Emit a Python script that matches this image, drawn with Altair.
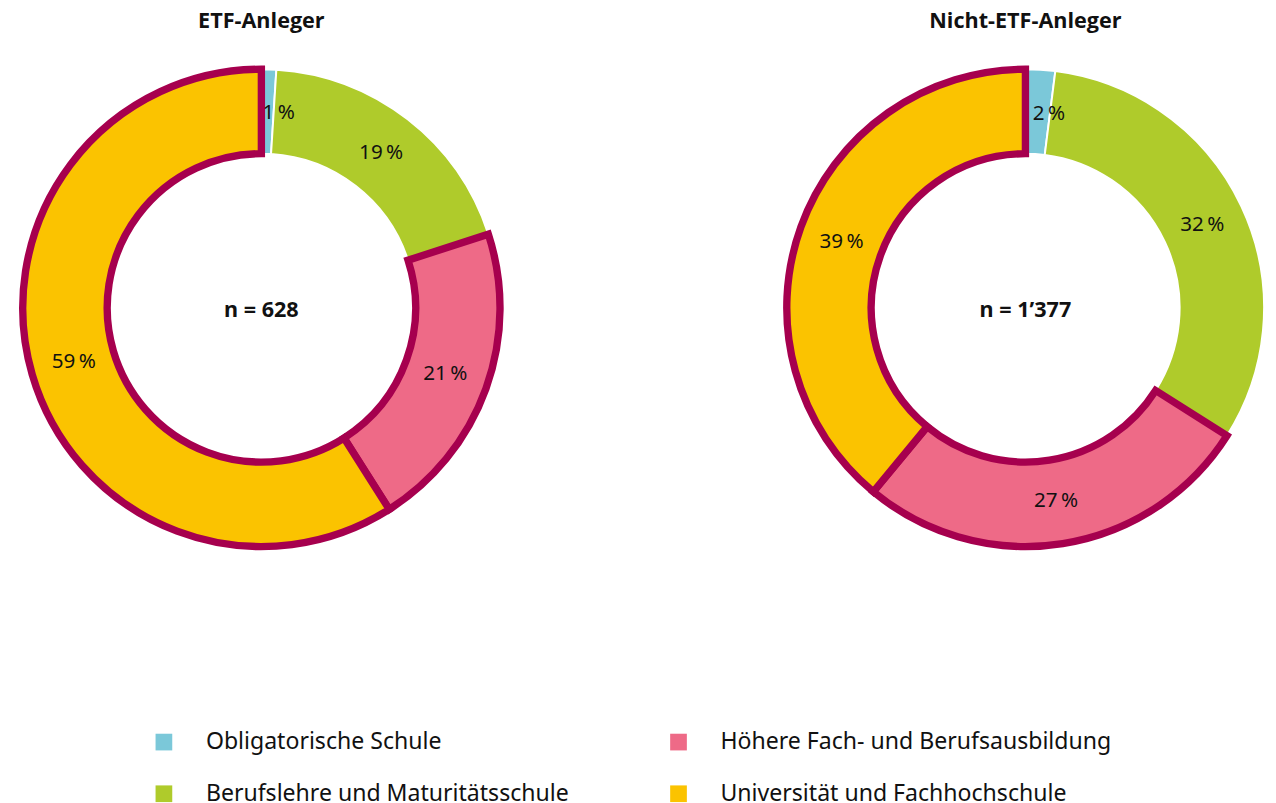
import altair as alt
import pandas as pd

categories = [
    "Obligatorische Schule",
    "Berufslehre und Maturitätsschule",
    "Höhere Fach- und Berufsausbildung",
    "Universität und Fachhochschule",
]
etf_values = [1, 19, 21, 59]
non_etf_values = [2, 32, 27, 39]
titles = ["ETF-Anleger", "Nicht-ETF-Anleger"]
n_labels = ["n = 628", "n = 1’377"]
colors = ["#7BC8D9", "#AFCB2B", "#EE6A87", "#FBC300"]
border_color = "#A6004E"
bordered = categories[2:]

FONT = "Noto Sans"


def panel(values, title, n_label, width, height):
    df = pd.DataFrame({"cat": categories, "value": values, "order": list(range(len(categories)))})
    base = alt.Chart(df).transform_window(
        end="sum(value)", sort=[alt.SortField("order")], frame=[None, 0]
    ).transform_calculate(
        start="datum.end - datum.value",
        mid="datum.end - datum.value / 2",
        label="datum.value + '\u202f%'",
    )
    theta_scale = alt.Scale(domain=[0, 100])
    arcs = base.mark_arc(outerRadius=243, innerRadius=157, strokeJoin="miter").encode(
        theta=alt.Theta("start:Q", scale=theta_scale),
        theta2="end:Q",
        color=alt.Color(
            "cat:N",
            scale=alt.Scale(domain=categories, range=colors),
            legend=alt.Legend(
                orient="none",
                legendX=143,
                legendY=704,
                columns=2,
                title=None,
                symbolType="square",
                symbolSize=289,
                symbolStrokeWidth=0,
                labelFontSize=23.5,
                labelFont=FONT,
                labelColor="#111111",
                labelOffset=31,
                labelLimit=600,
                rowPadding=28,
                columnPadding=99,
            ),
        ),
        stroke=alt.condition(
            alt.FieldOneOfPredicate(field="cat", oneOf=bordered),
            alt.value(border_color),
            alt.value("#FFFFFF"),
        ),
        strokeWidth=alt.condition(
            alt.FieldOneOfPredicate(field="cat", oneOf=bordered),
            alt.value(7.5),
            alt.value(2),
        ),
        order=alt.Order("order:Q"),
    )
    labels = base.transform_filter(alt.datum.order > 0).mark_text(
        radius=199, fontSize=21, font=FONT, color="#111111"
    ).encode(
        theta=alt.Theta("mid:Q", scale=theta_scale),
        text="label:N",
    )
    small_label = base.transform_filter(alt.datum.order == 0).mark_text(
        radius=198, fontSize=21, font=FONT, color="#111111", align="left", dx=-5
    ).encode(
        theta=alt.Theta("mid:Q", scale=theta_scale),
        text="label:N",
    )
    center = alt.Chart(pd.DataFrame({"n": [n_label]})).mark_text(
        fontSize=22, font=FONT, fontWeight="bold", color="#111111", dy=2
    ).encode(text="n:N")
    return alt.layer(arcs, labels, small_label, center).properties(
        width=width,
        height=height,
        title=alt.TitleParams(
            title, fontSize=22, font="Open Sans", fontWeight="bold", anchor="middle",
            color="#111111", offset=6,
        ),
    )


left = panel(etf_values, titles[0], n_labels[0], 508, 548)
right = panel(non_etf_values, titles[1], n_labels[1], 480, 548)

chart = alt.hconcat(left, right, spacing=284, bounds="flush").properties(
    padding={"left": 0, "top": -5, "right": 0, "bottom": 0}
).configure_view(stroke=None)

chart.save("out.html", embed_options={"renderer": "svg", "actions": False})
